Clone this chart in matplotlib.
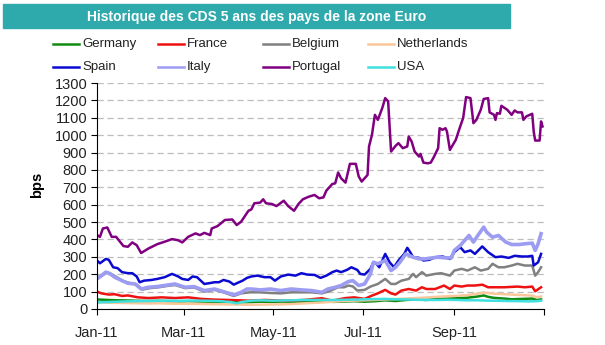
import matplotlib
matplotlib.use("Agg")
import matplotlib.pyplot as plt
from matplotlib.lines import Line2D
from matplotlib.patches import Rectangle
import pandas as pd

plt.rcParams['font.family'] = ['Liberation Sans', 'DejaVu Sans']

# CDS 5 ans (bps) -- jours depuis le 1er janvier 2011
germany_days = [0, 7, 14, 21, 28, 35, 42, 49, 56, 63, 70, 77, 84, 91, 98, 105, 112, 119, 126, 133,
                140, 147, 154, 161, 168, 175, 182, 189, 196, 203, 210, 217, 224, 231, 238, 245, 252,
                259, 263, 266, 270, 277, 282, 289, 296, 299, 302]
germany_bps = [55, 52, 50, 49, 47, 46, 47, 45, 44, 45, 43, 42, 41, 40, 38, 40, 42, 41, 43, 41,
               43, 42, 44, 41, 43, 45, 42, 45, 50, 46, 52, 55, 52, 58, 60, 62, 65,
               72, 78, 70, 64, 60, 56, 58, 60, 52, 55]

france_days = [0, 3, 8, 12, 17, 21, 28, 35, 44, 53, 62, 71, 80, 89, 103, 114, 128, 141, 153, 160,
               169, 175, 182, 187, 191, 196, 200, 203, 207, 212, 217, 221, 224, 230, 236, 240, 243,
               248, 252, 257, 262, 266, 269, 277, 286, 291, 296, 298, 302]
france_bps = [100, 90, 83, 85, 75, 78, 67, 63, 67, 63, 67, 58, 54, 52, 48, 52, 48, 52, 62, 48,
              63, 67, 58, 77, 90, 110, 90, 83, 106, 115, 106, 125, 115, 115, 135, 115, 135,
              129, 135, 135, 140, 125, 125, 125, 129, 125, 129, 102, 125]

belgium_days = [0, 4, 7, 10, 14, 18, 22, 27, 31, 36, 42, 48, 53, 60, 66, 73, 80, 86, 93, 98,
                104, 111, 118, 125, 132, 139, 146, 153, 157, 160, 164, 168, 171, 174, 177, 182, 186,
                191, 196, 200, 203, 207, 212, 215, 217, 221, 224, 230, 234, 240, 243, 248, 252,
                257, 261, 266, 269, 273, 277, 282, 286, 291, 296, 298, 300, 302]
belgium_bps = [179, 195, 212, 200, 180, 160, 150, 140, 112, 120, 125, 133, 138, 120, 124, 100, 110, 96, 75, 90,
               96, 96, 92, 90, 96, 96, 96, 90, 100, 110, 125, 125, 135, 130, 106, 110, 129,
               144, 173, 144, 144, 163, 173, 202, 183, 212, 192, 202, 206, 192, 221, 231, 221,
               240, 221, 231, 260, 240, 240, 250, 260, 250, 250, 192, 212, 240]

netherlands_days = [0, 7, 14, 21, 28, 35, 42, 49, 56, 63, 70, 77, 84, 91, 98, 105, 112, 119, 126, 133,
                    140, 147, 154, 161, 168, 175, 182, 189, 196, 203, 210, 217, 224, 231, 238, 245,
                    252, 259, 263, 266, 270, 277, 282, 289, 296, 299, 302]
netherlands_bps = [38, 36, 35, 34, 33, 32, 33, 31, 30, 30, 29, 28, 27, 26, 25, 24, 25, 26, 27, 29,
                   32, 35, 38, 42, 46, 48, 50, 52, 55, 57, 60, 63, 66, 70, 73, 76,
                   80, 88, 95, 92, 88, 85, 83, 80, 77, 68, 72]

spain_days = [0, 2, 6, 8, 11, 14, 17, 21, 24, 27, 29, 32, 37, 41, 46, 51, 55, 58, 62, 65,
              68, 73, 76, 80, 83, 86, 90, 93, 95, 99, 102, 105, 109, 114, 118, 121, 125, 130,
              135, 139, 143, 148, 152, 156, 160, 163, 166, 170, 173, 177, 179, 182, 186, 188,
              190, 192, 196, 199, 202, 205, 209, 211, 213, 215, 219, 222, 226, 230, 235, 240,
              243, 247, 250, 254, 257, 262, 266, 271, 275, 280, 284, 289, 293, 296, 297, 300, 302]
spain_bps = [279, 263, 288, 283, 240, 235, 212, 206, 206, 187, 154, 163, 167, 173, 183, 202, 188, 173, 167, 187,
             183, 144, 148, 154, 154, 167, 158, 140, 148, 163, 179, 187, 192, 183, 183, 163, 187, 198,
             192, 206, 198, 196, 179, 192, 212, 221, 212, 225, 240, 225, 202, 198, 231, 269,
             260, 240, 317, 269, 240, 279, 317, 352, 327, 298, 294, 279, 283, 298, 302, 288,
             327, 356, 327, 337, 317, 360, 327, 298, 302, 294, 306, 302, 302, 306, 250, 269, 317]

italy_days = [0, 3, 6, 9, 12, 17, 21, 26, 30, 35, 41, 48, 53, 60, 66, 73, 80, 86, 93, 98,
              102, 105, 111, 118, 125, 132, 139, 146, 153, 157, 162, 166, 171, 174, 178, 182,
              186, 188, 191, 196, 200, 203, 206, 210, 215, 219, 223, 228, 232, 237, 241, 243,
              247, 250, 253, 256, 259, 263, 265, 269, 273, 278, 282, 287, 291, 296, 298, 300, 302]
italy_bps = [173, 192, 212, 202, 183, 163, 148, 144, 115, 125, 129, 138, 144, 125, 129, 106, 115, 100, 81, 96,
             115, 115, 110, 115, 106, 115, 110, 106, 96, 115, 125, 135, 158, 163, 135, 144,
             202, 269, 260, 279, 221, 240, 269, 317, 298, 288, 288, 294, 298, 294, 294, 337,
             365, 394, 423, 385, 423, 471, 442, 413, 423, 385, 371, 371, 375, 379, 337, 375, 433]

portugal_days = [0, 2, 4, 7, 10, 13, 18, 21, 24, 27, 30, 35, 41, 46, 51, 55, 58, 62, 67, 70,
                 73, 77, 78, 82, 87, 92, 95, 98, 103, 105, 107, 111, 113, 115, 119, 122, 124,
                 127, 130, 134, 137, 140, 144, 148, 151, 154, 156, 160, 162, 164, 166, 169, 172,
                 176, 178, 180, 182, 184, 185, 187, 189, 191, 194, 196, 198, 200, 203, 205, 208,
                 211, 212, 214, 216, 219, 220, 222, 225, 227, 229, 232, 233, 235, 237, 238, 240,
                 244, 247, 249, 251, 254, 256, 258, 261, 263, 266, 267, 270, 271, 272, 274, 275,
                 279, 282, 284, 286, 289, 290, 292, 296, 297, 298, 301, 302, 303]
portugal_bps = [425, 415, 463, 469, 415, 415, 362, 358, 383, 367, 322, 348, 373, 387, 402, 396, 383, 415, 435, 425,
                438, 425, 463, 477, 512, 515, 483, 502, 565, 573, 608, 612, 631, 608, 604, 592, 604,
                623, 592, 565, 604, 631, 646, 656, 637, 642, 681, 719, 723, 785, 752, 727, 835,
                835, 762, 733, 752, 771, 935, 1002, 1117, 1088, 1156, 1213, 1194, 906, 938, 954, 925,
                935, 992, 963, 906, 877, 892, 842, 838, 842, 873, 925, 1040, 1031, 1040, 1021, 915,
                973, 1050, 1098, 1219, 1213, 1069, 1088, 1146, 1208, 1213, 1131, 1117, 1088, 1127, 1123, 1169,
                1146, 1117, 1142, 1131, 1131, 1088, 1108, 1123, 1021, 969, 969, 1079, 1050]

usa_days = [0, 7, 14, 21, 28, 35, 42, 49, 56, 63, 70, 77, 84, 91, 95, 98, 105, 112, 119, 126,
            133, 140, 147, 154, 161, 168, 175, 182, 189, 196, 203, 210, 217, 224, 231, 238,
            245, 252, 259, 266, 273, 280, 287, 294, 299, 302]
usa_bps = [38, 40, 42, 44, 45, 46, 47, 48, 47, 48, 48, 47, 45, 40, 32, 40, 48, 50, 48, 49,
           50, 52, 52, 52, 52, 53, 54, 56, 57, 58, 56, 55, 53, 52, 52, 53,
           52, 50, 50, 48, 47, 46, 45, 44, 45, 48]

names = ["Germany", "France", "Belgium", "Netherlands", "Spain", "Italy", "Portugal", "USA"]
colors = ["#108a10", "#ee1111", "#808080", "#f9c79a", "#0a0ad0", "#9c9cf2", "#800080", "#40e0e0"]
widths = [1.8, 1.8, 1.8, 1.8, 1.8, 2.6, 1.8, 1.8]
all_days = [germany_days, france_days, belgium_days, netherlands_days,
            spain_days, italy_days, portugal_days, usa_days]
all_bps = [germany_bps, france_bps, belgium_bps, netherlands_bps,
           spain_bps, italy_bps, portugal_bps, usa_bps]

tick_dates = ["2011-01-01", "2011-03-01", "2011-05-01", "2011-07-01", "2011-09-01", "2011-11-01"]
tick_labels = ["Jan-11", "Mar-11", "May-11", "Jul-11", "Sep-11", ""]

W, H = 605, 345
start = pd.Timestamp("2011-01-01")

fig = plt.figure(figsize=(W / 100, H / 100), dpi=100)
ax = fig.add_axes([97 / W, 1 - 309 / H, (544 - 97) / W, (309 - 83) / H])

for name, days, bps, col, lw in zip(names, all_days, all_bps, colors, widths):
    dates = start + pd.to_timedelta(days, unit="D")
    ax.plot(dates, bps, color=col, lw=lw, label=name, solid_joinstyle="round")

ax.set_xlim(pd.Timestamp(tick_dates[0]), pd.Timestamp(tick_dates[-1]))
ax.set_ylim(0, 1300)
ax.set_yticks(range(0, 1301, 100))
ax.set_xticks([pd.Timestamp(d) for d in tick_dates])
ax.set_xticklabels(tick_labels)
ax.tick_params(axis="both", labelsize=10.5, length=4, width=0.8, color="black", labelcolor="#222222")
ax.tick_params(axis="x", pad=8)
ax.tick_params(axis="y", pad=3)

ax.yaxis.grid(True, linestyle=(0, (5, 3)), color="#bdbdbd", lw=0.9)
ax.set_axisbelow(True)
for side in ["top", "right"]:
    ax.spines[side].set_visible(False)
for side in ["left", "bottom"]:
    ax.spines[side].set_linewidth(0.8)
    ax.spines[side].set_color("black")

ax.set_ylabel("bps", fontsize=10.5, fontweight="bold")
ax.yaxis.set_label_coords(-0.118, 0.55)

# bandeau du titre
fig.patches.append(Rectangle((3 / W, 1 - 28 / H), 507 / W, 24 / H,
                             transform=fig.transFigure, color="#2eaaad", zorder=0))
fig.text(257 / W, 1 - 16.5 / H, "Historique des CDS 5 ans des pays de la zone Euro",
         ha="center", va="center", color="white", fontsize=10, fontweight="bold")

# légende sur deux lignes
for i, (name, col, lw) in enumerate(zip(names, colors, widths)):
    row, c = divmod(i, 4)
    x0 = 53 + 105 * c
    y0 = 1 - (44 + 23 * row) / H
    fig.add_artist(Line2D([x0 / W, (x0 + 26) / W], [y0, y0], color=col, lw=1.8,
                          transform=fig.transFigure))
    fig.text((x0 + 29) / W, y0, name, ha="left", va="center", fontsize=9.5, color="#222222")

fig.savefig("out.png", dpi=100)
